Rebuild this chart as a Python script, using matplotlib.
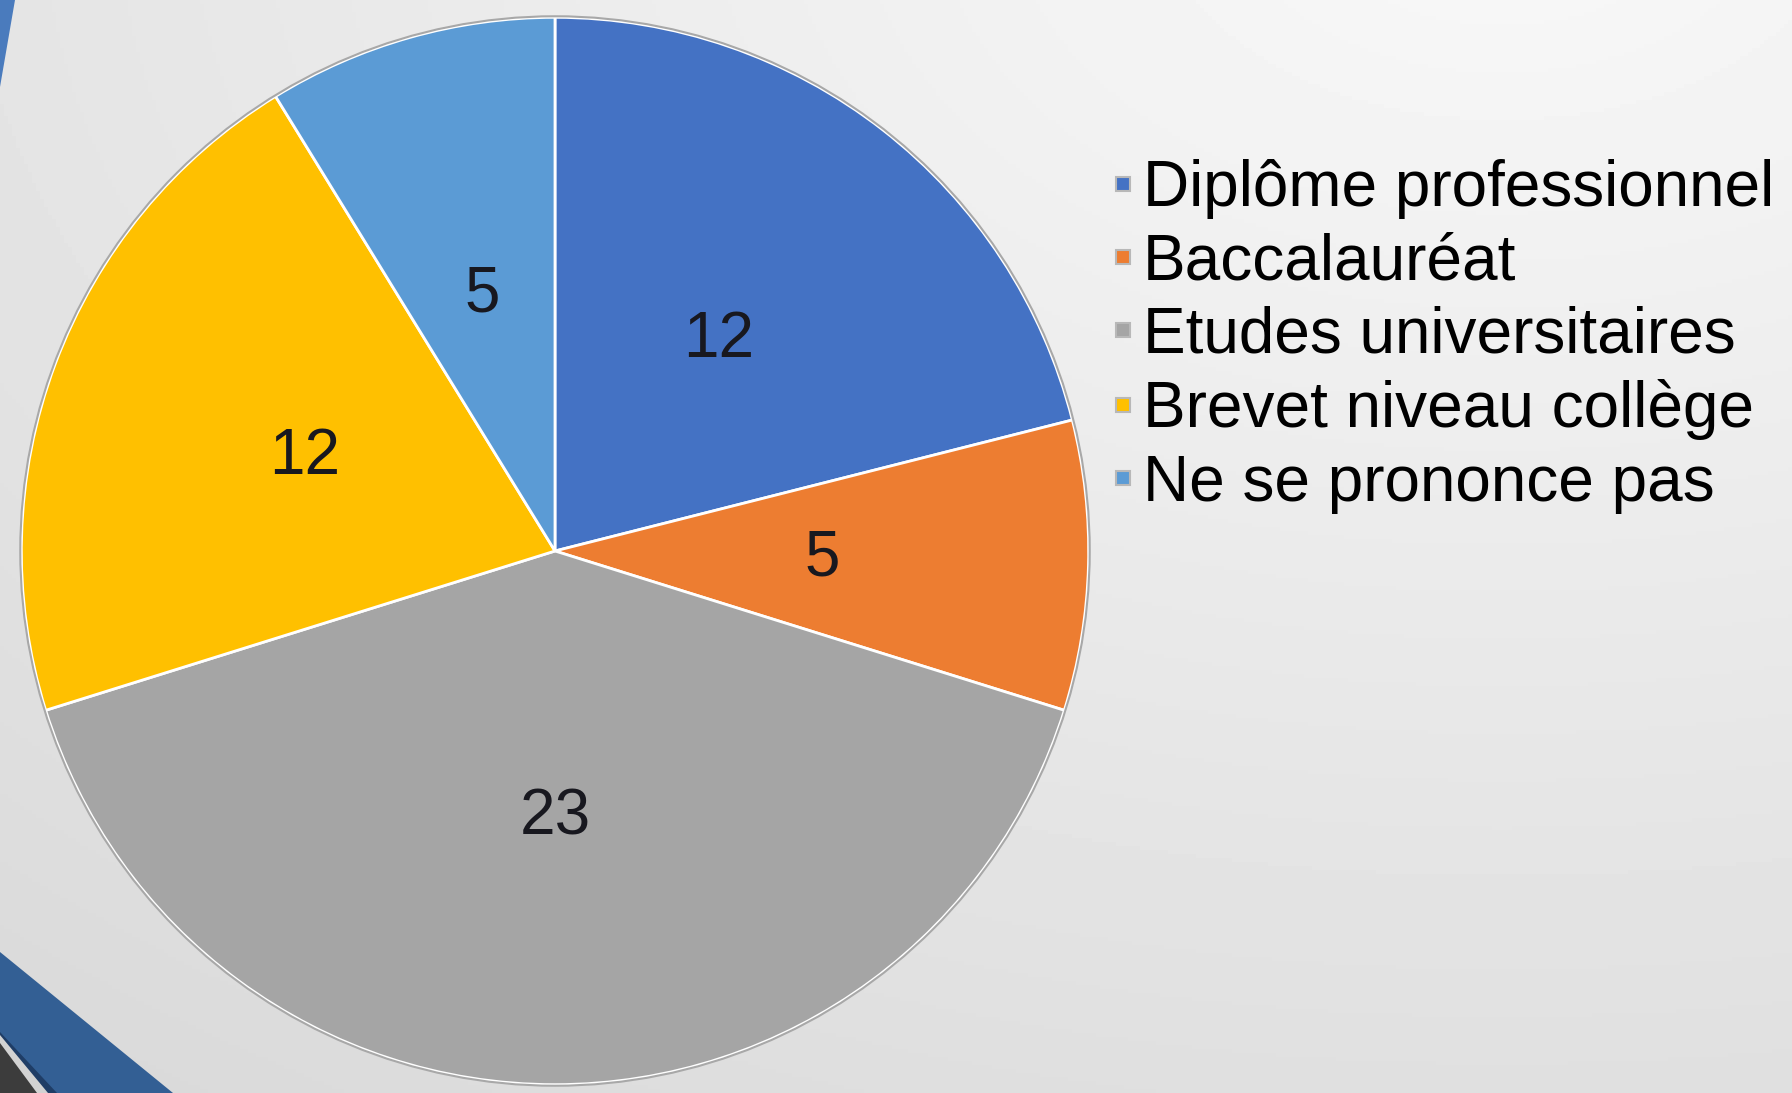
import numpy as np
import matplotlib
matplotlib.use('Agg')
import matplotlib.pyplot as plt
from matplotlib.patches import Polygon, Circle
from matplotlib.lines import Line2D

categories = ['Diplôme professionnel', 'Baccalauréat', 'Etudes universitaires',
              'Brevet niveau collège', 'Ne se prononce pas']
values = [12, 5, 23, 12, 5]
colors = ['#4472C4', '#ED7D31', '#A5A5A5', '#FFC000', '#5B9BD5']

FONT = ['Liberation Sans', 'DejaVu Sans']
W, H = 1792, 1093


def add_background(fig):
    bg = fig.add_axes([0, 0, 1, 1])
    bg.set_xlim(0, W)
    bg.set_ylim(H, 0)
    bg.axis('off')
    yy, xx = np.mgrid[0:H:4, 0:W:4]
    d = np.hypot((xx - 1500) * 0.7, (yy + 100) * 1.1)
    shade = np.clip(0.975 - d * 7.5e-5, 0.84, 0.975)
    bg.imshow(shade, cmap='gray', vmin=0, vmax=1, extent=[0, W, H, 0], aspect='auto')
    # slide decoration
    bg.add_patch(Polygon([(0, 0), (15, 0), (0, 87)], closed=True, color='#4a7bbd', lw=0))
    bg.add_patch(Polygon([(0, 952), (173, 1093), (0, 1093)], closed=True, color='#335f94', lw=0))
    bg.add_patch(Polygon([(0, 1032), (57, 1093), (0, 1093)], closed=True, color='#1f3d66', lw=0))
    bg.add_patch(Polygon([(0, 1035), (48, 1093), (0, 1093)], closed=True, color='#d2d2d2', lw=0))
    bg.add_patch(Polygon([(0, 1043), (37, 1093), (0, 1093)], closed=True, color='#3c3c3c', lw=0))


def plot():
    fig = plt.figure(figsize=[W / 100, H / 100], dpi=100)
    add_background(fig)

    cx, cy, r = 555, 551, 539
    ax = fig.add_axes([(cx - r) / W, (H - cy - r) / H, 2 * r / W, 2 * r / H])
    total = sum(values)
    wedges, _, autotexts = ax.pie(
        values, colors=colors, startangle=90, counterclock=False, radius=1,
        autopct=lambda p: f'{round(p * total / 100)}', pctdistance=0.5,
        wedgeprops=dict(edgecolor='white', linewidth=2),
        textprops=dict(fontsize=46, color='#18181f', family=FONT))
    ax.add_patch(Circle((0, 0), 1.002, fill=False, edgecolor='#a8a8a8', lw=1.5))
    ax.set_xlim(-1.01, 1.01)
    ax.set_ylim(-1.01, 1.01)
    ax.axis('off')

    handles = [Line2D([], [], ls='', marker='s', markersize=10, markerfacecolor=c,
                      markeredgecolor='#b8b8b8', markeredgewidth=1.5) for c in colors]
    fig.legend(handles, categories, loc='upper left',
               bbox_to_anchor=(1110 / W, 1 - 159 / H), bbox_transform=fig.transFigure,
               frameon=False, borderpad=0, borderaxespad=0, handlelength=0.4,
               handletextpad=0.12, labelspacing=0.21,
               prop=dict(family=FONT, size=46))

    fig.savefig('out.png', dpi=100)


if __name__ == '__main__':
    plot()
